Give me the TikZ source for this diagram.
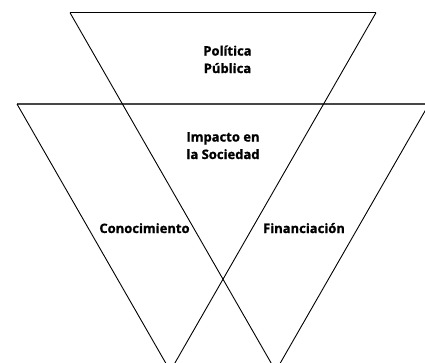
\documentclass[tikz,border=0pt]{standalone}
\usepackage{fontspec}
\setmainfont{Open Sans}[BoldFont={Open Sans Bold},BoldFeatures={FakeBold=1.2}]
\begin{document}
\begin{tikzpicture}[x=1pt,y=-1pt,
  edge/.style={line width=0.9pt,black},
  midline/.style={line width=1.3pt,black!72},
  lbl/.style={font=\bfseries\fontsize{13}{17.5}\selectfont,align=center,inner sep=0pt,anchor=base}]
\useasboundingbox (0,0) rectangle (425,362);
\clip (0,0) rectangle (425,362);
% corners
\coordinate (A) at (70,12.7);
\coordinate (B) at (376,12.7);
\coordinate (L1) at (17,104);
\coordinate (R2) at (429,104);
\coordinate (LA) at (170.3,371);
\coordinate (RA) at (275.7,371);
% top edge of upper triangle
\draw[edge] (A) -- (B);
% middle horizontal line
\draw[midline] (L1) -- (R2);
% long edges
\draw[edge] (A) -- (RA);
\draw[edge] (B) -- (LA);
\draw[edge] (L1) -- (LA);
\draw[edge] (R2) -- (RA);
% labels
\node[lbl] (pp) at (227.5,73) {Política\\Pública};
\node[lbl] (is) at (223,159) {Impacto en\\la Sociedad};
\node[lbl] (co) at (144.5,233) {Conocimiento};
\node[lbl] (fi) at (304,233) {Financiación};
\end{tikzpicture}
\end{document}
